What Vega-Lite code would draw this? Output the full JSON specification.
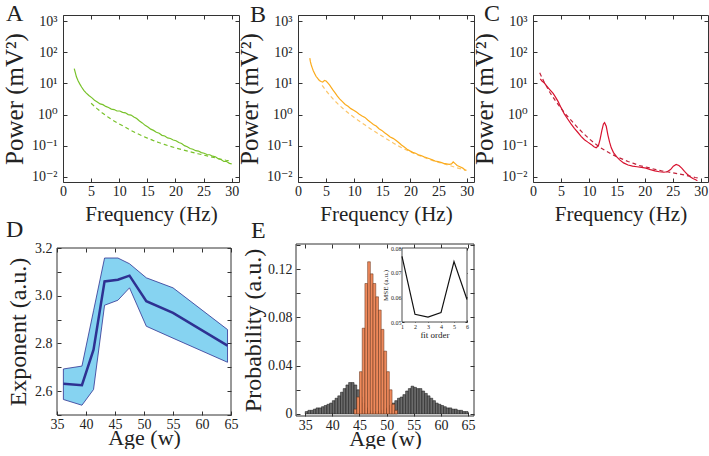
{
"$schema": "https://vega.github.io/schema/vega-lite/v6.json",
"padding": {"left": 1, "top": 1, "right": 0, "bottom": 0},
"background": "white",
"config": {
  "font": "Liberation Serif, Times New Roman, DejaVu Serif, serif",
  "view": {"stroke": "#333", "strokeWidth": 1},
  "axis": {"domain": false, "grid": false, "tickSize": -4, "tickColor": "#333", "labelFont": "Liberation Serif, Times New Roman, DejaVu Serif, serif", "labelFontSize": 14, "labelColor": "#222", "titleFont": "Liberation Serif, Times New Roman, DejaVu Serif, serif", "titleFontWeight": "normal", "titleColor": "#222", "labelFlush": false, "labelOverlap": false},
  "axisX": {"labelPadding": 6, "titleFontSize": 21, "titlePadding": 5},
  "axisY": {"labelPadding": 10, "titleFontSize": 25, "titlePadding": 4},
  "title": {"font": "Liberation Serif, Times New Roman, DejaVu Serif, serif", "fontWeight": "normal", "fontSize": 24, "anchor": "start", "frame": "group", "baseline": "alphabetic", "color": "#222"}
},
"datasets": {
  "a_psd": [{"f":2.0,"p":30},{"f":2.2,"p":22},{"f":2.4,"p":16},{"f":2.7,"p":12},{"f":3.0,"p":9.5},{"f":3.3,"p":7.7},{"f":3.7,"p":6.0},{"f":4.1,"p":5.0},{"f":4.6,"p":4.1},{"f":5.1,"p":3.5},{"f":5.6,"p":2.9},{"f":6.1,"p":2.55},{"f":6.6,"p":2.2},{"f":7.1,"p":2.08},{"f":7.6,"p":1.83},{"f":8.1,"p":1.68},{"f":8.6,"p":1.5},{"f":9.1,"p":1.45},{"f":9.6,"p":1.3},{"f":10.1,"p":1.3},{"f":10.6,"p":1.18},{"f":11.1,"p":1.14},{"f":11.6,"p":1.0},{"f":12.1,"p":0.96},{"f":12.6,"p":0.84},{"f":13.1,"p":0.75},{"f":13.6,"p":0.62},{"f":14.1,"p":0.54},{"f":14.6,"p":0.45},{"f":15.1,"p":0.4},{"f":15.6,"p":0.34},{"f":16.1,"p":0.31},{"f":16.6,"p":0.27},{"f":17.1,"p":0.25},{"f":17.6,"p":0.215},{"f":18.1,"p":0.205},{"f":18.6,"p":0.178},{"f":19.1,"p":0.17},{"f":19.6,"p":0.152},{"f":20.1,"p":0.144},{"f":20.6,"p":0.126},{"f":21.1,"p":0.117},{"f":21.6,"p":0.1},{"f":22.1,"p":0.092},{"f":22.6,"p":0.081},{"f":23.1,"p":0.077},{"f":23.6,"p":0.069},{"f":24.1,"p":0.067},{"f":24.6,"p":0.06},{"f":25.1,"p":0.057},{"f":25.6,"p":0.052},{"f":26.1,"p":0.051},{"f":26.6,"p":0.046},{"f":27.1,"p":0.044},{"f":27.6,"p":0.038},{"f":28.1,"p":0.036},{"f":28.6,"p":0.031},{"f":29.1,"p":0.031},{"f":29.6,"p":0.027},{"f":30.0,"p":0.026}],
  "a_fit": [{"f":5.0,"p":2.3},{"f":6,"p":1.58},{"f":7,"p":1.12},{"f":8,"p":0.83},{"f":9,"p":0.63},{"f":10,"p":0.5},{"f":11,"p":0.4},{"f":12,"p":0.316},{"f":13,"p":0.255},{"f":14,"p":0.209},{"f":15,"p":0.175},{"f":16,"p":0.148},{"f":17,"p":0.127},{"f":18,"p":0.11},{"f":19,"p":0.096},{"f":20,"p":0.085},{"f":21,"p":0.076},{"f":22,"p":0.068},{"f":23,"p":0.061},{"f":24,"p":0.055},{"f":25,"p":0.05},{"f":26,"p":0.045},{"f":27,"p":0.041},{"f":28,"p":0.037},{"f":29,"p":0.034},{"f":30,"p":0.032}],
  "b_psd": [{"f":2.1,"p":65},{"f":2.2,"p":50},{"f":2.35,"p":40},{"f":2.5,"p":33},{"f":2.7,"p":26},{"f":2.95,"p":21},{"f":3.2,"p":17},{"f":3.5,"p":14.5},{"f":3.8,"p":12.5},{"f":4.1,"p":11.5},{"f":4.4,"p":11},{"f":4.7,"p":12.5},{"f":5.0,"p":12},{"f":5.3,"p":10.5},{"f":5.6,"p":9},{"f":5.9,"p":7.5},{"f":6.2,"p":6.2},{"f":6.6,"p":5},{"f":7.0,"p":3.9},{"f":7.4,"p":3.2},{"f":7.9,"p":2.6},{"f":8.4,"p":2.1},{"f":8.9,"p":1.85},{"f":9.4,"p":1.55},{"f":9.9,"p":1.38},{"f":10.4,"p":1.2},{"f":10.9,"p":1.03},{"f":11.4,"p":0.9},{"f":11.9,"p":0.81},{"f":12.4,"p":0.67},{"f":12.9,"p":0.57},{"f":13.4,"p":0.48},{"f":13.9,"p":0.43},{"f":14.4,"p":0.35},{"f":14.9,"p":0.31},{"f":15.4,"p":0.26},{"f":15.9,"p":0.225},{"f":16.4,"p":0.19},{"f":16.9,"p":0.172},{"f":17.4,"p":0.15},{"f":17.9,"p":0.127},{"f":18.4,"p":0.105},{"f":18.9,"p":0.09},{"f":19.4,"p":0.077},{"f":19.9,"p":0.068},{"f":20.4,"p":0.061},{"f":20.9,"p":0.057},{"f":21.4,"p":0.051},{"f":21.9,"p":0.048},{"f":22.4,"p":0.044},{"f":22.9,"p":0.041},{"f":23.4,"p":0.038},{"f":23.9,"p":0.035},{"f":24.4,"p":0.032},{"f":24.9,"p":0.031},{"f":25.4,"p":0.029},{"f":25.9,"p":0.027},{"f":26.4,"p":0.026},{"f":26.9,"p":0.025},{"f":27.3,"p":0.026},{"f":27.6,"p":0.03},{"f":27.9,"p":0.027},{"f":28.3,"p":0.023},{"f":28.8,"p":0.021},{"f":29.3,"p":0.019},{"f":29.8,"p":0.016}],
  "b_fit": [{"f":4.3,"p":8.7},{"f":5,"p":5.8},{"f":5.8,"p":3.9},{"f":6.6,"p":2.7},{"f":7.4,"p":1.95},{"f":8.2,"p":1.45},{"f":9,"p":1.1},{"f":10,"p":0.8},{"f":11,"p":0.6},{"f":12,"p":0.45},{"f":13,"p":0.34},{"f":14,"p":0.26},{"f":15,"p":0.2},{"f":16,"p":0.155},{"f":17,"p":0.12},{"f":18,"p":0.095},{"f":19,"p":0.077},{"f":20,"p":0.063},{"f":21,"p":0.053},{"f":22,"p":0.045},{"f":23,"p":0.038},{"f":24,"p":0.033},{"f":25,"p":0.029},{"f":26,"p":0.026},{"f":27,"p":0.023},{"f":28,"p":0.02},{"f":29,"p":0.018},{"f":30,"p":0.016}],
  "c_psd": [{"f":1.3,"p":14},{"f":1.6,"p":12},{"f":2.0,"p":10.5},{"f":2.4,"p":8.5},{"f":2.8,"p":7},{"f":3.2,"p":5.8},{"f":3.6,"p":4.8},{"f":4.0,"p":3.7},{"f":4.5,"p":2.6},{"f":5.0,"p":1.7},{"f":5.6,"p":1.05},{"f":6.2,"p":0.72},{"f":6.8,"p":0.5},{"f":7.4,"p":0.36},{"f":8.0,"p":0.27},{"f":8.6,"p":0.2},{"f":9.2,"p":0.155},{"f":9.8,"p":0.13},{"f":10.4,"p":0.11},{"f":10.9,"p":0.092},{"f":11.3,"p":0.086},{"f":11.7,"p":0.1},{"f":12.0,"p":0.16},{"f":12.3,"p":0.3},{"f":12.6,"p":0.5},{"f":12.8,"p":0.55},{"f":13.1,"p":0.42},{"f":13.4,"p":0.22},{"f":13.7,"p":0.13},{"f":14.0,"p":0.085},{"f":14.4,"p":0.06},{"f":14.9,"p":0.045},{"f":15.5,"p":0.035},{"f":16.2,"p":0.028},{"f":17.0,"p":0.024},{"f":17.8,"p":0.022},{"f":18.6,"p":0.021},{"f":19.4,"p":0.02},{"f":20.2,"p":0.019},{"f":21.0,"p":0.017},{"f":21.8,"p":0.0155},{"f":22.6,"p":0.0145},{"f":23.4,"p":0.014},{"f":24.0,"p":0.0145},{"f":24.6,"p":0.017},{"f":25.1,"p":0.022},{"f":25.6,"p":0.025},{"f":26.1,"p":0.023},{"f":26.6,"p":0.019},{"f":27.1,"p":0.015},{"f":27.6,"p":0.012},{"f":28.1,"p":0.01},{"f":28.6,"p":0.0088},{"f":29.1,"p":0.008},{"f":29.4,"p":0.0075}],
  "c_fit": [{"f":1.2,"p":22},{"f":2,"p":11},{"f":3,"p":5.2},{"f":4,"p":2.8},{"f":5,"p":1.6},{"f":6,"p":0.95},{"f":7,"p":0.6},{"f":8,"p":0.38},{"f":9,"p":0.25},{"f":10,"p":0.17},{"f":11,"p":0.12},{"f":12,"p":0.088},{"f":13,"p":0.068},{"f":14,"p":0.054},{"f":15,"p":0.044},{"f":16,"p":0.037},{"f":17,"p":0.031},{"f":18,"p":0.027},{"f":19,"p":0.023},{"f":20,"p":0.021},{"f":21,"p":0.019},{"f":22,"p":0.017},{"f":23,"p":0.0155},{"f":24,"p":0.0145},{"f":25,"p":0.0135},{"f":26,"p":0.0125},{"f":27,"p":0.0115},{"f":28,"p":0.0105},{"f":29,"p":0.0095},{"f":29.7,"p":0.009}],
  "d": [{"age":36.1,"mean":2.631,"lo":2.565,"hi":2.693},{"age":39.3,"mean":2.625,"lo":2.541,"hi":2.705},{"age":41.3,"mean":2.774,"lo":2.607,"hi":2.937},{"age":43.2,"mean":3.06,"lo":2.96,"hi":3.158},{"age":45.5,"mean":3.067,"lo":2.981,"hi":3.158},{"age":47.5,"mean":3.084,"lo":3.033,"hi":3.134},{"age":50.4,"mean":2.977,"lo":2.872,"hi":3.075},{"age":55,"mean":2.928,"lo":2.822,"hi":3.033},{"age":64.4,"mean":2.791,"lo":2.721,"hi":2.858}],
  "d_frame": [{"age_lo":35,"age_hi":65,"exp_lo":2.5,"exp_hi":3.2}],
  "e_frame": [{"age_lo":33.3,"age_hi":66.1,"p_lo":-0.0017,"p_hi":0.1407}],
  "e_gray": [{"bin_start":35,"bin_end":35.5,"prob":0.002},{"bin_start":35.5,"bin_end":36,"prob":0.003},{"bin_start":36,"bin_end":36.5,"prob":0.003},{"bin_start":36.5,"bin_end":37,"prob":0.004},{"bin_start":37,"bin_end":37.5,"prob":0.005},{"bin_start":37.5,"bin_end":38,"prob":0.005},{"bin_start":38,"bin_end":38.5,"prob":0.006},{"bin_start":38.5,"bin_end":39,"prob":0.007},{"bin_start":39,"bin_end":39.5,"prob":0.008},{"bin_start":39.5,"bin_end":40,"prob":0.009},{"bin_start":40,"bin_end":40.5,"prob":0.011},{"bin_start":40.5,"bin_end":41,"prob":0.013},{"bin_start":41,"bin_end":41.5,"prob":0.015},{"bin_start":41.5,"bin_end":42,"prob":0.018},{"bin_start":42,"bin_end":42.5,"prob":0.021},{"bin_start":42.5,"bin_end":43,"prob":0.024},{"bin_start":43,"bin_end":43.5,"prob":0.026},{"bin_start":43.5,"bin_end":44,"prob":0.026},{"bin_start":44,"bin_end":44.5,"prob":0.024},{"bin_start":44.5,"bin_end":45,"prob":0.02},{"bin_start":45,"bin_end":45.5,"prob":0.014},{"bin_start":45.5,"bin_end":46,"prob":0.009},{"bin_start":46,"bin_end":46.5,"prob":0.005},{"bin_start":46.5,"bin_end":47,"prob":0.003},{"bin_start":47,"bin_end":47.5,"prob":0.002},{"bin_start":47.5,"bin_end":48,"prob":0.002},{"bin_start":48,"bin_end":48.5,"prob":0.002},{"bin_start":48.5,"bin_end":49,"prob":0.002},{"bin_start":49,"bin_end":49.5,"prob":0.003},{"bin_start":49.5,"bin_end":50,"prob":0.004},{"bin_start":50,"bin_end":50.5,"prob":0.005},{"bin_start":50.5,"bin_end":51,"prob":0.007},{"bin_start":51,"bin_end":51.5,"prob":0.009},{"bin_start":51.5,"bin_end":52,"prob":0.011},{"bin_start":52,"bin_end":52.5,"prob":0.013},{"bin_start":52.5,"bin_end":53,"prob":0.014},{"bin_start":53,"bin_end":53.5,"prob":0.016},{"bin_start":53.5,"bin_end":54,"prob":0.019},{"bin_start":54,"bin_end":54.5,"prob":0.021},{"bin_start":54.5,"bin_end":55,"prob":0.023},{"bin_start":55,"bin_end":55.5,"prob":0.022},{"bin_start":55.5,"bin_end":56,"prob":0.021},{"bin_start":56,"bin_end":56.5,"prob":0.021},{"bin_start":56.5,"bin_end":57,"prob":0.019},{"bin_start":57,"bin_end":57.5,"prob":0.017},{"bin_start":57.5,"bin_end":58,"prob":0.015},{"bin_start":58,"bin_end":58.5,"prob":0.013},{"bin_start":58.5,"bin_end":59,"prob":0.011},{"bin_start":59,"bin_end":59.5,"prob":0.009},{"bin_start":59.5,"bin_end":60,"prob":0.008},{"bin_start":60,"bin_end":60.5,"prob":0.007},{"bin_start":60.5,"bin_end":61,"prob":0.006},{"bin_start":61,"bin_end":61.5,"prob":0.005},{"bin_start":61.5,"bin_end":62,"prob":0.005},{"bin_start":62,"bin_end":62.5,"prob":0.004},{"bin_start":62.5,"bin_end":63,"prob":0.004},{"bin_start":63,"bin_end":63.5,"prob":0.003},{"bin_start":63.5,"bin_end":64,"prob":0.003},{"bin_start":64,"bin_end":64.5,"prob":0.002},{"bin_start":64.5,"bin_end":65,"prob":0.002}],
  "e_orange": [{"bin_start":44,"bin_end":44.5,"prob":0.004},{"bin_start":44.5,"bin_end":45,"prob":0.014},{"bin_start":45,"bin_end":45.5,"prob":0.035},{"bin_start":45.5,"bin_end":46,"prob":0.071},{"bin_start":46,"bin_end":46.5,"prob":0.108},{"bin_start":46.5,"bin_end":47,"prob":0.126},{"bin_start":47,"bin_end":47.5,"prob":0.116},{"bin_start":47.5,"bin_end":48,"prob":0.108},{"bin_start":48,"bin_end":48.5,"prob":0.097},{"bin_start":48.5,"bin_end":49,"prob":0.086},{"bin_start":49,"bin_end":49.5,"prob":0.07},{"bin_start":49.5,"bin_end":50,"prob":0.052},{"bin_start":50,"bin_end":50.5,"prob":0.035},{"bin_start":50.5,"bin_end":51,"prob":0.02},{"bin_start":51,"bin_end":51.5,"prob":0.008},{"bin_start":51.5,"bin_end":52,"prob":0.003}],
  "mse": [{"order":1,"mse":0.0766},{"order":2,"mse":0.0531},{"order":3,"mse":0.052},{"order":4,"mse":0.0538},{"order":5,"mse":0.0745},{"order":6,"mse":0.0591}],
  "inset_box": [{"order_lo":1,"order_hi":6,"mse_lo":0.05,"mse_hi":0.08}]
},
"bounds": "flush",
"columns": 3,
"spacing": {"row": 62, "column": 59},
"concat": [
 {"width": 176, "height": 167,
  "title": {"text": "A", "dx": -57, "offset": -12},
  "layer": [
    {"data": {"name": "a_psd"}, "mark": {"type": "line", "color": "#78c22a", "strokeWidth": 1.2, "clip": true},
     "encoding": {"x": {"field": "f", "type": "quantitative", "scale": {"domain": [0, 31.3], "nice": false, "zero": false}, "axis": {"values": [0,5,10,15,20,25,30], "title": "Frequency (Hz)"}},
                  "y": {"field": "p", "type": "quantitative", "scale": {"type": "log", "domain": [0.0068, 1585], "nice": false}, "axis": {"values": [0.01,0.1,1,10,100,1000], "labelExpr": "'10' + ['⁻²','⁻¹','⁰','¹','²','³'][round(log(datum.value)/LN10)+2]", "title": "Power (mV²)"}}}},
    {"data": {"name": "a_fit"}, "mark": {"type": "line", "color": "#78c22a", "strokeWidth": 1.2, "strokeDash": [4, 3], "clip": true},
     "encoding": {"x": {"field": "f", "type": "quantitative", "scale": {"domain": [0, 31.3], "nice": false, "zero": false}, "axis": {"orient": "top", "values": [0,5,10,15,20,25,30], "labels": false, "title": null}},
                  "y": {"field": "p", "type": "quantitative", "scale": {"type": "log", "domain": [0.0068, 1585], "nice": false}, "axis": {"orient": "right", "values": [0.01,0.1,1,10,100,1000], "labels": false, "title": null}}}}
  ],
  "resolve": {"axis": {"x": "independent", "y": "independent"}}},
 {"width": 176, "height": 167,
  "title": {"text": "B", "dx": -48, "offset": -13},
  "layer": [
    {"data": {"name": "b_fit"}, "mark": {"type": "line", "color": "#fcc66a", "strokeWidth": 1.2, "strokeDash": [4, 3], "clip": true},
     "encoding": {"x": {"field": "f", "type": "quantitative", "scale": {"domain": [0, 31.3], "nice": false, "zero": false}, "axis": {"values": [0,5,10,15,20,25,30], "title": "Frequency (Hz)"}},
                  "y": {"field": "p", "type": "quantitative", "scale": {"type": "log", "domain": [0.0068, 1585], "nice": false}, "axis": {"values": [0.01,0.1,1,10,100,1000], "labelExpr": "'10' + ['⁻²','⁻¹','⁰','¹','²','³'][round(log(datum.value)/LN10)+2]", "title": "Power (mV²)"}}}},
    {"data": {"name": "b_psd"}, "mark": {"type": "line", "color": "#fbab1c", "strokeWidth": 1.2, "clip": true},
     "encoding": {"x": {"field": "f", "type": "quantitative", "scale": {"domain": [0, 31.3], "nice": false, "zero": false}, "axis": {"orient": "top", "values": [0,5,10,15,20,25,30], "labels": false, "title": null}},
                  "y": {"field": "p", "type": "quantitative", "scale": {"type": "log", "domain": [0.0068, 1585], "nice": false}, "axis": {"orient": "right", "values": [0.01,0.1,1,10,100,1000], "labels": false, "title": null}}}}
  ],
  "resolve": {"axis": {"x": "independent", "y": "independent"}}},
 {"width": 175, "height": 167,
  "title": {"text": "C", "dx": -49, "offset": -12},
  "layer": [
    {"data": {"name": "c_psd"}, "mark": {"type": "line", "color": "#d8122f", "strokeWidth": 1.2, "clip": true},
     "encoding": {"x": {"field": "f", "type": "quantitative", "scale": {"domain": [0, 31.3], "nice": false, "zero": false}, "axis": {"values": [0,5,10,15,20,25,30], "title": "Frequency (Hz)"}},
                  "y": {"field": "p", "type": "quantitative", "scale": {"type": "log", "domain": [0.0068, 1585], "nice": false}, "axis": {"values": [0.01,0.1,1,10,100,1000], "labelExpr": "'10' + ['⁻²','⁻¹','⁰','¹','²','³'][round(log(datum.value)/LN10)+2]", "title": "Power (mV²)"}}}},
    {"data": {"name": "c_fit"}, "mark": {"type": "line", "color": "#c0223a", "strokeWidth": 1.2, "strokeDash": [4, 3], "clip": true},
     "encoding": {"x": {"field": "f", "type": "quantitative", "scale": {"domain": [0, 31.3], "nice": false, "zero": false}, "axis": {"orient": "top", "values": [0,5,10,15,20,25,30], "labels": false, "title": null}},
                  "y": {"field": "p", "type": "quantitative", "scale": {"type": "log", "domain": [0.0068, 1585], "nice": false}, "axis": {"orient": "right", "values": [0.01,0.1,1,10,100,1000], "labels": false, "title": null}}}}
  ],
  "resolve": {"axis": {"x": "independent", "y": "independent"}}},
 {"width": 176, "height": 171,
  "view": {"stroke": null},
  "title": {"text": "D", "dx": -57, "offset": -1},
  "layer": [
    {"data": {"name": "d"}, "mark": {"type": "area", "fill": "#86d3f1", "stroke": "#2e3192", "strokeWidth": 0.8, "opacity": 1},
     "encoding": {"x": {"field": "age", "type": "quantitative", "scale": {"domain": [35, 65], "range": [-6, 168], "nice": false, "zero": false}, "axis": {"values": [35,40,45,50,55,60,65], "title": "Age (w)", "titleFontSize": 22, "titlePadding": -4}},
                  "y": {"field": "lo", "type": "quantitative", "scale": {"domain": [2.5, 3.2], "range": [171, 4], "nice": false, "zero": false}, "axis": {"offset": 6, "values": [2.5,2.6,2.7,2.8,2.9,3.0,3.1,3.2], "labelExpr": "indexof(['2.6','2.8','3.0','3.2'], format(datum.value,'.1f')) >= 0 ? format(datum.value,'.1f') : ''", "title": "Exponent (a.u.)", "titleFontSize": 24, "labelPadding": 9}},
                  "y2": {"field": "hi"}}},
    {"data": {"name": "d"}, "mark": {"type": "line", "color": "#2e3192", "strokeWidth": 2.5},
     "encoding": {"x": {"field": "age", "type": "quantitative", "scale": {"domain": [35, 65], "range": [-6, 168], "nice": false, "zero": false}, "axis": {"orient": "top", "offset": -4, "values": [35,40,45,50,55,60,65], "labels": false, "title": null}},
                  "y": {"field": "mean", "type": "quantitative", "scale": {"domain": [2.5, 3.2], "range": [171, 4], "nice": false, "zero": false}, "axis": {"orient": "right", "offset": -8, "values": [2.5,2.6,2.7,2.8,2.9,3.0,3.1,3.2], "labels": false, "title": null}}}},
    {"data": {"name": "d_frame"}, "mark": {"type": "rect", "fill": null, "stroke": "#333", "strokeWidth": 1},
     "encoding": {"x": {"field": "age_lo", "type": "quantitative", "scale": {"domain": [35, 65], "range": [-6, 168], "nice": false, "zero": false}, "axis": null},
                  "x2": {"field": "age_hi"},
                  "y": {"field": "exp_lo", "type": "quantitative", "scale": {"domain": [2.5, 3.2], "range": [171, 4], "nice": false, "zero": false}, "axis": null},
                  "y2": {"field": "exp_hi"}}}
  ],
  "resolve": {"axis": {"x": "independent", "y": "independent"}}},
 {"width": 176, "height": 172,
  "view": {"stroke": null},
  "title": {"text": "E", "dx": -47, "offset": -5},
  "layer": [
    {"layer": [
      {"data": {"name": "e_gray"}, "mark": {"type": "bar", "fill": "#6b6b6b", "stroke": "#111", "strokeWidth": 0.5},
       "encoding": {"x": {"field": "bin_start", "type": "quantitative", "scale": {"domain": [33.3, 66.1], "range": [-2, 176], "nice": false, "zero": false}, "axis": {"offset": 0, "values": [35,40,45,50,55,60,65], "title": "Age (w)", "titleFontSize": 22, "titlePadding": -4}},
                    "x2": {"field": "bin_end"},
                    "y": {"field": "prob", "type": "quantitative", "stack": null, "scale": {"domain": [-0.0017, 0.1407], "nice": false, "zero": false}, "axis": {"offset": 2, "values": [0,0.02,0.04,0.06,0.08,0.1,0.12,0.14], "labelExpr": "datum.value < 0.001 ? '0' : (indexof(['0.04','0.08','0.12'], format(datum.value,'.2f')) >= 0 ? format(datum.value,'.2f') : '')", "title": "Probability (a.u.)", "titleFontSize": 24, "labelPadding": 8, "titlePadding": 2}},
                    "y2": {"datum": 0}}},
      {"data": {"name": "e_orange"}, "mark": {"type": "bar", "fill": "#ef8a5c", "stroke": "#5b2a12", "strokeWidth": 0.5},
       "encoding": {"x": {"field": "bin_start", "type": "quantitative", "scale": {"domain": [33.3, 66.1], "range": [-2, 176], "nice": false, "zero": false}, "axis": {"orient": "top", "values": [35,40,45,50,55,60,65], "labels": false, "title": null}},
                    "x2": {"field": "bin_end"},
                    "y": {"field": "prob", "type": "quantitative", "stack": null, "scale": {"domain": [-0.0017, 0.1407], "nice": false, "zero": false}, "axis": {"orient": "right", "values": [0,0.02,0.04,0.06,0.08,0.1,0.12,0.14], "labels": false, "title": null}},
                    "y2": {"datum": 0}}},
      {"data": {"name": "e_frame"}, "mark": {"type": "rect", "fill": null, "stroke": "#333", "strokeWidth": 1},
       "encoding": {"x": {"field": "age_lo", "type": "quantitative", "scale": {"domain": [33.3, 66.1], "range": [-2, 176], "nice": false, "zero": false}, "axis": null},
                    "x2": {"field": "age_hi"},
                    "y": {"field": "p_lo", "type": "quantitative", "scale": {"domain": [-0.0017, 0.1407], "nice": false, "zero": false}, "axis": null},
                    "y2": {"field": "p_hi"}}}
     ],
     "resolve": {"axis": {"x": "independent", "y": "independent"}}},
    {"layer": [
      {"data": {"name": "inset_box"}, "mark": {"type": "rect", "fill": "white", "stroke": "#222", "strokeWidth": 0.8},
       "encoding": {"x": {"field": "order_lo", "type": "quantitative", "scale": {"domain": [1, 6], "range": [104, 169], "nice": false, "zero": false}, "axis": {"orient": "bottom", "offset": -94, "values": [1,2,3,4,5,6], "labelFontSize": 6, "tickSize": -2, "labelPadding": 3, "title": "fit order", "titleFontSize": 9, "titlePadding": 1}},
                    "x2": {"field": "order_hi"},
                    "y": {"field": "mse_lo", "type": "quantitative", "scale": {"domain": [0.05, 0.08], "range": [78, 4], "nice": false, "zero": false}, "axis": {"orient": "left", "offset": -104, "values": [0.05,0.06,0.07,0.08], "format": ".2f", "labelFontSize": 6, "tickSize": -2, "labelPadding": 3, "title": "MSE (a.u.)", "titleFontSize": 7, "titlePadding": 2}},
                    "y2": {"field": "mse_hi"}}},
      {"data": {"name": "mse"}, "mark": {"type": "line", "color": "#111", "strokeWidth": 1.2},
       "encoding": {"x": {"field": "order", "type": "quantitative", "scale": {"domain": [1, 6], "range": [104, 169], "nice": false, "zero": false}, "axis": {"orient": "top", "offset": -4, "values": [1,2,3,4,5,6], "labels": false, "tickSize": -2, "title": null}},
                    "y": {"field": "mse", "type": "quantitative", "scale": {"domain": [0.05, 0.08], "range": [78, 4], "nice": false, "zero": false}, "axis": {"orient": "right", "offset": -7, "values": [0.05,0.06,0.07,0.08], "labels": false, "tickSize": -2, "title": null}}}}
     ],
     "resolve": {"axis": {"x": "independent", "y": "independent"}}}
  ],
  "resolve": {"scale": {"x": "independent", "y": "independent"}}}
]
}
